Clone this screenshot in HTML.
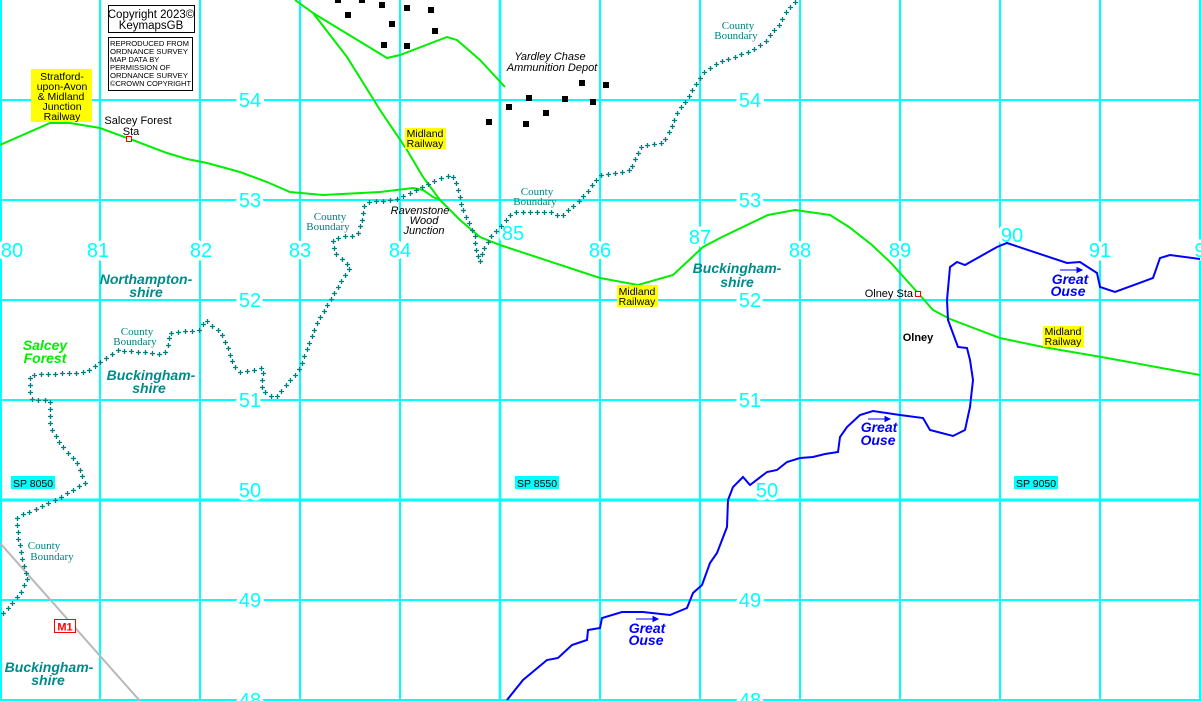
<!DOCTYPE html>
<html><head><meta charset="utf-8"><style>
html,body{margin:0;padding:0;background:#fff;}
svg{display:block;}
text{font-family:"Liberation Sans",sans-serif;}
.g{fill:#00ffff;font-size:20px;paint-order:stroke;stroke:#fff;stroke-width:7px;text-anchor:middle;}
.cb{fill:#008080;font-family:"Liberation Serif",serif;font-size:11px;text-anchor:middle;}
.sh{fill:#008b8b;font-size:14px;font-weight:bold;font-style:italic;text-anchor:middle;}
.go{fill:#0000ff;font-size:14px;font-weight:bold;font-style:italic;text-anchor:middle;}
.bl{fill:#000;font-size:11px;text-anchor:middle;}
.it{fill:#000;font-size:11px;font-style:italic;text-anchor:middle;}
.sm{fill:#000;font-size:7.6px;}
.mr{fill:#000;font-size:10.5px;text-anchor:middle;}
</style></head><body>
<svg id="m" width="1201" height="701" viewBox="0 0 1201 701" xmlns="http://www.w3.org/2000/svg">
<rect width="1201" height="701" fill="#fff"/>
<g stroke="#00ffff" stroke-width="2">
<line x1="1" y1="0" x2="1" y2="701"/><line x1="100" y1="0" x2="100" y2="701"/><line x1="200" y1="0" x2="200" y2="701"/><line x1="300" y1="0" x2="300" y2="701"/><line x1="400" y1="0" x2="400" y2="701"/><line x1="500" y1="0" x2="500" y2="701" stroke-width="2.5"/><line x1="600" y1="0" x2="600" y2="701"/><line x1="700" y1="0" x2="700" y2="701"/><line x1="800" y1="0" x2="800" y2="701"/><line x1="900" y1="0" x2="900" y2="701"/><line x1="1000" y1="0" x2="1000" y2="701"/><line x1="1100" y1="0" x2="1100" y2="701"/><line x1="1200" y1="0" x2="1200" y2="701"/>
<line x1="0" y1="100" x2="1201" y2="100"/><line x1="0" y1="200" x2="1201" y2="200"/><line x1="0" y1="300" x2="1201" y2="300"/><line x1="0" y1="400" x2="1201" y2="400"/><line x1="0" y1="500" x2="1201" y2="500" stroke-width="3"/><line x1="0" y1="600" x2="1201" y2="600"/><line x1="0" y1="700" x2="1201" y2="700"/>
</g>
<g class="g">
<text x="250" y="107">54</text><text x="250" y="207">53</text><text x="250" y="307">52</text><text x="250" y="407">51</text><text x="250" y="497">50</text><text x="250" y="607">49</text><text x="250" y="707">48</text>
<text x="750" y="107">54</text><text x="750" y="207">53</text><text x="750" y="307">52</text><text x="750" y="407">51</text><text x="767" y="497">50</text><text x="750" y="607">49</text><text x="750" y="707">48</text>
<text x="12" y="257">80</text><text x="98" y="257">81</text><text x="201" y="257">82</text><text x="300" y="257">83</text><text x="400" y="257">84</text><text x="513" y="240">85</text><text x="600" y="257">86</text><text x="700" y="244">87</text><text x="800" y="257">88</text><text x="900" y="257">89</text><text x="1012" y="242">90</text><text x="1100" y="257">91</text><text x="1200" y="257">9</text>
</g>
<line x1="0" y1="543" x2="140" y2="701" stroke="#b8b8b8" stroke-width="2"/>
<g fill="none" stroke="#00ee00" stroke-width="2">
<path d="M295,0 L313,13 L347,57 L380,110 L407,150 L423,177 L440,200 L460,220 L480,237 L500,245 L600,278 L638,285 L673,275 L703,247 L722,237 L768,215 L795,210 L830,215 L849,227 L872,245 L891,263 L918,293 L933,310 L950,319 L1000,338 L1043,347 L1107,358 L1200,375"/>
<path d="M0,145 L50,123 L70,123 L100,128 L130,139 L167,153 L187,159 L207,163 L240,172 L267,182 L290,192 L323,195 L380,192 L413,188 L423,190 L433,197 L440,200"/>
<path d="M313,13 L387,58 L400,55 L447,37 L457,40 L480,60 L505,87"/>
</g>
<path fill="none" stroke="#0000ff" stroke-width="2" d="M507,700 L523,680 L547,660 L558,658 L572,645 L587,640 L588,630 L600,628 L602,618 L622,612 L643,612 L670,615 L687,608 L693,593 L702,585 L710,563 L717,553 L727,527 L728,500 L733,487 L743,477 L750,485 L767,472 L777,470 L787,462 L800,458 L813,457 L825,454 L838,452 L840,437 L847,427 L860,415 L873,411 L900,415 L923,418 L930,430 L953,436 L965,430 L970,407 L973,380 L970,360 L967,348 L958,347 L948,320 L947,300 L950,267 L957,262 L965,265 L997,247 L1007,243 L1067,263 L1080,262 L1097,273 L1100,287 L1115,292 L1153,278 L1160,258 L1170,255 L1200,259"/>
<g id="cbpaths" fill="none" stroke="none">
<path d="M795,2 L787,10 L780,23 L772,33 L765,42 L753,50 L734,57 L719,62 L703,73 L696,83 L688,97 L677,113 L669,132 L663,143 L642,145 L633,163 L631,170 L600,175 L587,192 L577,203 L560,217 L553,212 L513,212 L500,227 L490,237 L483,250 L480,262 L475,247 L475,235 L468,222 L462,207 L457,185 L452,175 L440,178 L425,185 L413,192 L393,200 L367,202 L363,207 L362,220 L357,235 L340,237 L333,240 L335,253 L350,267 L343,277 L315,327 L300,367 L293,377 L275,398 L262,390 L263,368 L253,370 L240,372 L233,365 L228,347 L220,332 L205,320 L200,330 L170,333 L167,350 L163,354 L117,350 L100,362 L87,372 L30,375 L30,395 L33,400 L50,400 L50,427 L63,447 L77,463 L85,483 L60,497 L33,510 L17,517 L18,537 L23,563 L28,577 L20,593 L0,617"/>
</g>
<g id="crosses" stroke="#008080" stroke-width="1.3"></g>
<g fill="#000">
<rect x="335" y="-3" width="6" height="6"/><rect x="359" y="-3" width="6" height="6"/><rect x="379" y="2" width="6" height="6"/><rect x="404" y="5" width="6" height="6"/><rect x="428" y="7" width="6" height="6"/><rect x="345" y="12" width="6" height="6"/><rect x="389" y="21" width="6" height="6"/><rect x="432" y="28" width="6" height="6"/><rect x="381" y="42" width="6" height="6"/><rect x="404" y="43" width="6" height="6"/><rect x="579" y="80" width="6" height="6"/><rect x="603" y="82" width="6" height="6"/><rect x="526" y="95" width="6" height="6"/><rect x="562" y="96" width="6" height="6"/><rect x="590" y="99" width="6" height="6"/><rect x="506" y="104" width="6" height="6"/><rect x="543" y="110" width="6" height="6"/><rect x="486" y="119" width="6" height="6"/><rect x="523" y="121" width="6" height="6"/>
</g>
<rect x="126.5" y="136.5" width="5" height="5" fill="#fff" stroke="#f00"/>
<rect x="915.5" y="291.5" width="5" height="5" fill="#fff" stroke="#f00"/>
<rect x="108.5" y="5.5" width="86" height="27" fill="#fff" stroke="#000"/>
<text x="151" y="18" class="bl" style="font-size:11.5px">Copyright 2023©</text>
<text x="151" y="29" class="bl" style="font-size:11.5px">KeymapsGB</text>
<rect x="108.5" y="37.5" width="84" height="53" fill="#fff" stroke="#000"/>
<text class="sm" x="110" y="46" textLength="79" lengthAdjust="spacingAndGlyphs">REPRODUCED FROM</text><text class="sm" x="110" y="54" textLength="78" lengthAdjust="spacingAndGlyphs">ORDNANCE SURVEY</text><text class="sm" x="110" y="62">MAP DATA BY</text><text class="sm" x="110" y="70">PERMISSION OF</text><text class="sm" x="110" y="78" textLength="78" lengthAdjust="spacingAndGlyphs">ORDNANCE SURVEY</text><text class="sm" x="110" y="86" textLength="81" lengthAdjust="spacingAndGlyphs">©CROWN COPYRIGHT</text>
<rect x="31" y="69" width="61" height="53" fill="#ffff00"/>
<text class="mr" x="62" y="80">Stratford-</text><text class="mr" x="62" y="90">upon-Avon</text><text class="mr" x="61" y="100">&amp; Midland</text><text class="mr" x="62" y="110">Junction</text><text class="mr" x="62" y="120">Railway</text>
<rect x="405" y="128" width="41" height="21" fill="#ffff00"/><text class="mr" x="425" y="137">Midland</text><text class="mr" x="425" y="147">Railway</text>
<rect x="617" y="285" width="41" height="22" fill="#ffff00"/><text class="mr" x="637" y="295">Midland</text><text class="mr" x="637" y="305">Railway</text>
<rect x="1043" y="326" width="41" height="21" fill="#ffff00"/><text class="mr" x="1063" y="335">Midland</text><text class="mr" x="1063" y="345">Railway</text>
<text class="bl" x="138" y="124">Salcey Forest</text><text class="bl" x="131" y="135">Sta</text>
<text class="it" x="550" y="60">Yardley Chase</text><text class="it" x="552" y="71">Ammunition Depot</text>
<text class="it" x="420" y="214">Ravenstone</text><text class="it" x="424" y="224">Wood</text><text class="it" x="424" y="234">Junction</text>
<text class="cb" x="537" y="195">County</text><text class="cb" x="535" y="205">Boundary</text>
<text class="cb" x="738" y="29">County</text><text class="cb" x="736" y="39">Boundary</text>
<text class="cb" x="330" y="220">County</text><text class="cb" x="328" y="230">Boundary</text>
<text class="cb" x="137" y="335">County</text><text class="cb" x="135" y="345">Boundary</text>
<text class="cb" x="44" y="549">County</text><text class="cb" x="52" y="560">Boundary</text>
<text class="sh" x="146" y="284">Northampton-</text><text class="sh" x="146" y="297">shire</text>
<text class="sh" x="151" y="380">Buckingham-</text><text class="sh" x="149" y="393">shire</text>
<text class="sh" x="737" y="273">Buckingham-</text><text class="sh" x="737" y="287">shire</text>
<text class="sh" x="49" y="672">Buckingham-</text><text class="sh" x="48" y="685">shire</text>
<text class="sh" x="45" y="350" style="fill:#00ee00">Salcey</text><text class="sh" x="45" y="363" style="fill:#00ee00">Forest</text>
<text x="913" y="297" style="font-size:11px;text-anchor:end">Olney Sta</text>
<text x="918" y="341" style="font-size:11px;font-weight:bold;text-anchor:middle">Olney</text>
<g stroke="#0000ff" stroke-width="1" fill="#0000ff">
<line x1="1060" y1="270" x2="1080" y2="270"/><path d="M1082,270 l-5,-2.5 v5z"/>
<line x1="868" y1="419" x2="888" y2="419"/><path d="M890,419 l-5,-2.5 v5z"/>
<line x1="636" y1="619" x2="656" y2="619"/><path d="M658,619 l-5,-2.5 v5z"/>
</g>
<text class="go" x="1070" y="284">Great</text><text class="go" x="1068" y="296">Ouse</text>
<text class="go" x="879" y="432">Great</text><text class="go" x="878" y="445">Ouse</text>
<text class="go" x="647" y="633">Great</text><text class="go" x="646" y="645">Ouse</text>
<g style="font-size:10.5px">
<rect x="11" y="476" width="44" height="13" fill="#00ffff"/><text x="13" y="487">SP 8050</text>
<rect x="515" y="476" width="44" height="13" fill="#00ffff"/><text x="517" y="487">SP 8550</text>
<rect x="1014" y="476" width="44" height="13" fill="#00ffff"/><text x="1016" y="487">SP 9050</text>
</g>
<rect x="54.5" y="619.5" width="21" height="13" fill="#fff" stroke="#f00"/>
<text x="65" y="630.5" style="font-size:11px;font-weight:bold;fill:#f00;text-anchor:middle">M1</text>
</svg>
<script>
(function(){
var ns="http://www.w3.org/2000/svg";
var g=document.getElementById("crosses");
var ps=document.querySelectorAll("#cbpaths path");
for(var i=0;i<ps.length;i++){
 var p=ps[i],L=p.getTotalLength();
 for(var d=0;d<=L;d+=7){
  var pt=p.getPointAtLength(d);
  var x=Math.round(pt.x)+0.5,y=Math.round(pt.y)+0.5;
  var a=document.createElementNS(ns,"path");
  a.setAttribute("d","M"+(x-2.5)+","+y+"H"+(x+2.5)+"M"+x+","+(y-2.5)+"V"+(y+2.5));
  g.appendChild(a);
 }
}
})();
</script>
</body></html>
